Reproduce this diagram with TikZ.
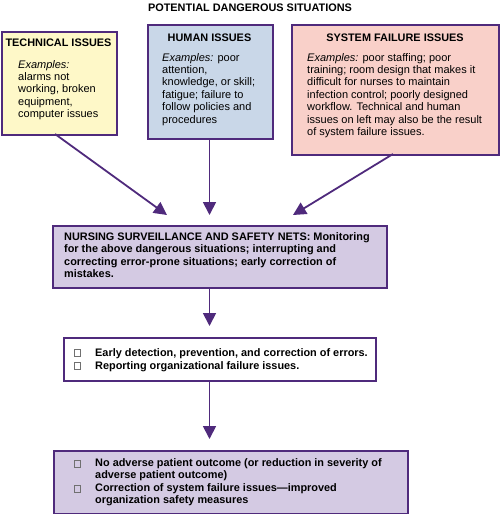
\documentclass[tikz,border=0pt]{standalone}
\usepackage{fontspec}
\setmainfont{Liberation Sans}
\usetikzlibrary{arrows.meta}
\definecolor{purp}{HTML}{4F2A7C}
\definecolor{fyel}{HTML}{FEF8C8}
\definecolor{fblu}{HTML}{C9D7E8}
\definecolor{fpnk}{HTML}{F9D0C9}
\definecolor{flav}{HTML}{D4CAE3}
\definecolor{chkc}{HTML}{707070}
\newcommand{\txtblock}[1]{\parbox[t]{330pt}{\raggedright #1}}
\tikzset{
  box/.style={draw=purp, line width=1.8pt, rectangle, inner sep=0pt, anchor=north west},
  ttl/.style={font=\fontsize{10.9}{12}\selectfont\bfseries, inner sep=0pt, anchor=base},
  body/.style={font=\fontsize{11}{12.4}\selectfont, inner sep=0pt, anchor=base west},
  bbody/.style={font=\fontsize{10.9}{12.5}\selectfont\bfseries, inner sep=0pt, anchor=base west},
  chk/.style={draw=chkc, line width=0.6pt, minimum size=6.5pt, inner sep=0pt},
  arr/.style={draw=purp, line width=1.8pt, -{Triangle[length=13pt,width=13pt]}},
}
\begin{document}
\begin{tikzpicture}[x=1pt,y=-1pt]
\useasboundingbox (0,0) rectangle (500,514);
\node[ttl] (title) at (250,11) {POTENTIAL DANGEROUS SITUATIONS};
% boxes
\node[box, fill=fyel, minimum width=115pt, minimum height=103pt] (tech) at (1,31) {};
\node[box, fill=fblu, minimum width=125pt, minimum height=114pt] (human) at (147,24) {};
\node[box, fill=fpnk, minimum width=207pt, minimum height=130pt] (sys) at (291,24) {};
\node[box, fill=flav, minimum width=334pt, minimum height=62pt] (nurse) at (52,225) {};
\node[box, fill=white, minimum width=312pt, minimum height=43pt] (det) at (63,337) {};
\node[box, fill=flav, minimum width=354pt, minimum height=63pt] (out) at (53,450) {};
% titles
\node[ttl] (techt) at (58.5,46) {TECHNICAL ISSUES};
\node[ttl] (humant) at (209.5,41) {HUMAN ISSUES};
\node[ttl] (syst) at (395,41) {SYSTEM FAILURE ISSUES};
% bodies
\node[body] (techb) at (18,68) {\txtblock{\textit{Examples:}\\alarms not\\working, broken\\equipment,\\computer issues}};
\node[body] (humanb) at (162,61) {\txtblock{\textit{Examples:} poor\\attention,\\knowledge, or skill;\\fatigue; failure to\\follow policies and\\procedures}};
\node[body] (sysb) at (307,61) {\txtblock{\textit{Examples:} poor staffing; poor\\training; room design that makes it\\difficult for nurses to maintain\\infection control; poorly designed\\workflow. Technical and human\\issues on left may also be the result\\of system failure issues.}};
\node[bbody] (nurseb) at (64,240) {\txtblock{NURSING SURVEILLANCE AND SAFETY NETS: Monitoring\\for the above dangerous situations; interrupting and\\correcting error-prone situations; early correction of\\mistakes.}};
\node[chk] (c1) at (77.5,353) {};
\node[chk] (c2) at (77.5,366) {};
\node[bbody] (d1) at (95,356.5) {Early detection, prevention, and correction of errors.};
\node[bbody] (d2) at (95,369) {Reporting organizational failure issues.};
\node[chk] (c3) at (77.5,464) {};
\node[chk] (c4) at (77.5,489) {};
\node[bbody] (o1) at (95,466) {\txtblock{No adverse patient outcome (or reduction in severity of\\adverse patient outcome)}};
\node[bbody] (o2) at (95,491) {\txtblock{Correction of system failure issues\textemdash improved\\organization safety measures}};
% connectors
\coordinate (tA) at (55,134);
\coordinate (tB) at (167,215);
\coordinate (hB) at (209.5,215);
\coordinate (sA) at (393,154);
\coordinate (sB) at (293,215);
\coordinate (nB) at (209.5,326);
\coordinate (dB) at (209.5,439);
\draw[arr] (tA) -- (tB);
\draw[arr] (human.south -| hB) -- (hB);
\draw[arr] (sA) -- (sB);
\draw[arr] (nurse.south -| nB) -- (nB);
\draw[arr] (det.south -| dB) -- (dB);
\end{tikzpicture}
\end{document}
